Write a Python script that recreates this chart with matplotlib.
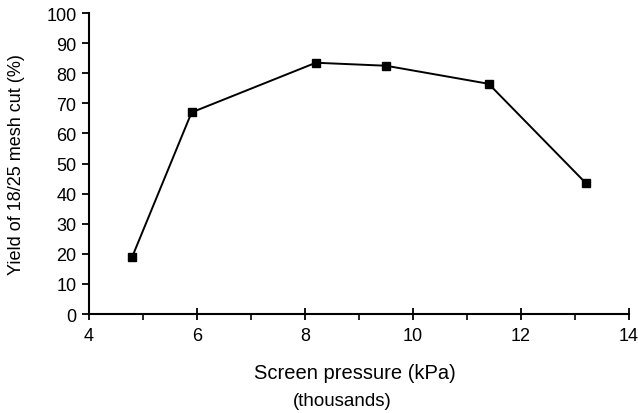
import matplotlib
matplotlib.use("Agg")
import matplotlib.pyplot as plt
from matplotlib.ticker import MultipleLocator

pressure = [4.8, 5.9, 8.2, 9.5, 11.4, 13.2]
yield_pct = [19, 67, 83.5, 82.5, 76.5, 43.5]
x_ticks = [4, 6, 8, 10, 12, 14]
y_ticks = [0, 10, 20, 30, 40, 50, 60, 70, 80, 90, 100]

plt.rcParams['font.family'] = ['Liberation Sans', 'DejaVu Sans']
fig = plt.figure(figsize=(6.38, 4.14), dpi=100)
ax = fig.add_axes([0.1395, 0.239, 0.8465, 0.727])
ax.plot(pressure, yield_pct, color='black', lw=1.4, marker='s', ms=5.5, mfc='black', mec='black')
ax.set_xlim(4, 14)
ax.set_ylim(0, 100)
ax.set_xticks(x_ticks)
ax.set_yticks(y_ticks)
ax.xaxis.set_minor_locator(MultipleLocator(1))
ax.spines['top'].set_visible(False)
ax.spines['right'].set_visible(False)
ax.spines['left'].set_linewidth(1.5)
ax.spines['bottom'].set_linewidth(1.5)
ax.tick_params(axis='both', which='major', direction='out', length=5, width=1.3, labelsize=13)
ax.tick_params(axis='y', which='major', pad=4)
ax.tick_params(axis='x', which='major', direction='inout', length=8, pad=5)
ax.tick_params(axis='x', which='minor', direction='out', length=4, width=1.2)
ax.set_ylabel('Yield of 18/25 mesh cut (%)', fontsize=13, labelpad=4)
ax.yaxis.set_label_coords(-0.118, 0.5)
fig.text(0.556, 0.099, 'Screen pressure (kPa)', ha='center', va='center', fontsize=14.5)
fig.text(0.537, 0.029, '(thousands)', ha='center', va='center', fontsize=13.5)
fig.savefig('out.png', dpi=100)
